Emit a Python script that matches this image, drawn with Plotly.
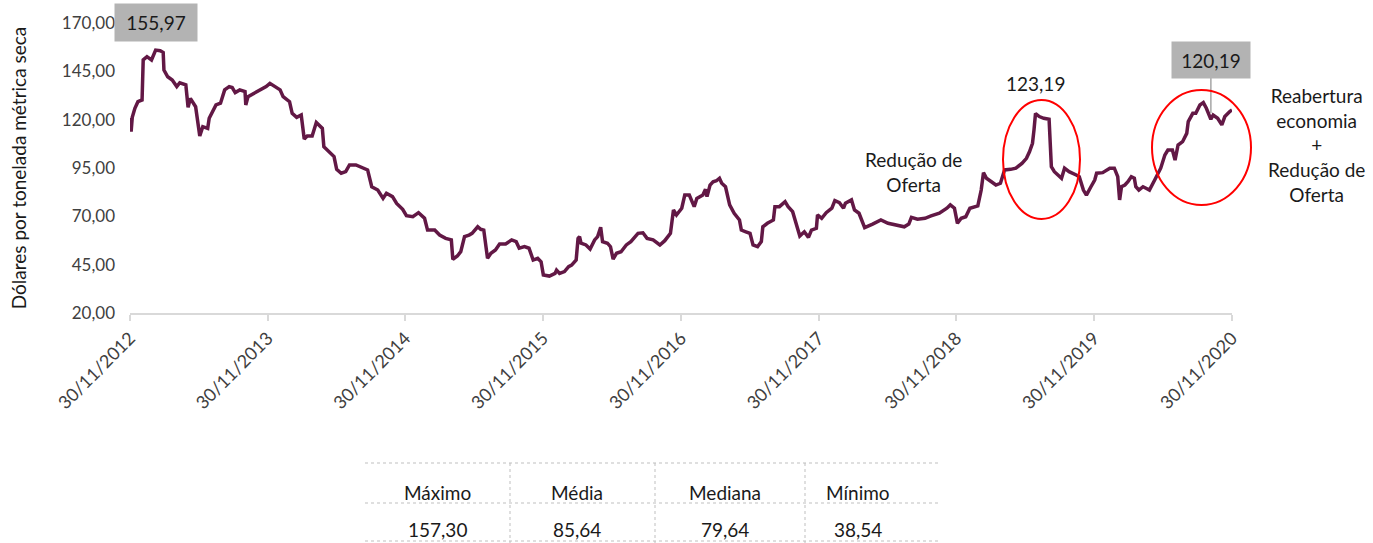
import plotly.graph_objects as go

# Minério de ferro – preço diário (US$/tonelada métrica seca)
dates = [
    "2012-11-30", "2012-12-03", "2012-12-06", "2012-12-13", "2012-12-21", "2013-01-01",
    "2013-01-04", "2013-01-14", "2013-01-26", "2013-02-06", "2013-02-18", "2013-02-26",
    "2013-02-28", "2013-03-10", "2013-03-22", "2013-04-03", "2013-04-11", "2013-04-27",
    "2013-05-03", "2013-05-09", "2013-05-23", "2013-06-03", "2013-06-11", "2013-06-24",
    "2013-06-28", "2013-07-16", "2013-07-28", "2013-08-08", "2013-08-20", "2013-08-28",
    "2013-09-05", "2013-09-17", "2013-10-01", "2013-10-03", "2013-10-09", "2013-10-25",
    "2013-11-10", "2013-11-26", "2013-12-06", "2013-12-18", "2014-01-02", "2014-01-10",
    "2014-01-27", "2014-02-03", "2014-02-15", "2014-02-27", "2014-03-07", "2014-03-15",
    "2014-03-28", "2014-04-08", "2014-04-24", "2014-04-28", "2014-05-12", "2014-05-25",
    "2014-06-01", "2014-06-13", "2014-06-25", "2014-07-05", "2014-07-22", "2014-08-06",
    "2014-08-22", "2014-09-02", "2014-09-18", "2014-10-02", "2014-10-11", "2014-10-27",
    "2014-11-07", "2014-11-23", "2014-12-03", "2014-12-20", "2015-01-04", "2015-01-20",
    "2015-01-28", "2015-02-16", "2015-03-01", "2015-03-17", "2015-04-01", "2015-04-05",
    "2015-04-17", "2015-04-26", "2015-05-06", "2015-05-18", "2015-05-26", "2015-06-10",
    "2015-06-18", "2015-06-26", "2015-07-06", "2015-07-15", "2015-07-27", "2015-08-07",
    "2015-08-23", "2015-09-08", "2015-09-20", "2015-09-28", "2015-10-12", "2015-10-24",
    "2015-11-04", "2015-11-16", "2015-11-25", "2015-12-01", "2015-12-17", "2016-01-01",
    "2016-01-05", "2016-01-13", "2016-01-26", "2016-02-06", "2016-02-14", "2016-02-26",
    "2016-03-02", "2016-03-06", "2016-03-10", "2016-03-23", "2016-04-03", "2016-04-15",
    "2016-04-23", "2016-05-01", "2016-05-06", "2016-05-19", "2016-05-27", "2016-06-03",
    "2016-06-12", "2016-06-24", "2016-07-08", "2016-07-20", "2016-07-28", "2016-08-08",
    "2016-08-21", "2016-09-01", "2016-09-17", "2016-10-05", "2016-10-18", "2016-11-02",
    "2016-11-10", "2016-11-18", "2016-12-02", "2016-12-10", "2016-12-22", "2017-01-04",
    "2017-01-11", "2017-01-27", "2017-02-03", "2017-02-07", "2017-02-15", "2017-02-23",
    "2017-03-04", "2017-03-12", "2017-03-18", "2017-03-28", "2017-04-08", "2017-04-20",
    "2017-05-04", "2017-05-09", "2017-05-21", "2017-06-01", "2017-06-09", "2017-06-21",
    "2017-07-01", "2017-07-05", "2017-07-17", "2017-08-02", "2017-08-06", "2017-08-18",
    "2017-09-02", "2017-09-10", "2017-09-22", "2017-10-03", "2017-10-11", "2017-10-23",
    "2017-11-03", "2017-11-11", "2017-11-24", "2017-11-27", "2017-12-08", "2017-12-20",
    "2018-01-04", "2018-01-12", "2018-01-24", "2018-02-04", "2018-02-09", "2018-02-25",
    "2018-03-05", "2018-03-17", "2018-04-01", "2018-04-22", "2018-05-14", "2018-06-02",
    "2018-06-23", "2018-07-15", "2018-07-27", "2018-08-03", "2018-08-19", "2018-09-08",
    "2018-09-24", "2018-10-16", "2018-11-05", "2018-11-14", "2018-11-25", "2018-12-03",
    "2018-12-13", "2018-12-25", "2019-01-05", "2019-01-18", "2019-01-26", "2019-02-04",
    "2019-02-10", "2019-02-18", "2019-03-02", "2019-03-15", "2019-03-27", "2019-04-07",
    "2019-04-23", "2019-05-07", "2019-05-23", "2019-06-04", "2019-06-12", "2019-06-16",
    "2019-06-20", "2019-06-24", "2019-06-28", "2019-07-08", "2019-07-20", "2019-08-03",
    "2019-08-09", "2019-08-17", "2019-09-05", "2019-09-13", "2019-09-25", "2019-10-14",
    "2019-10-22", "2019-11-02", "2019-11-10", "2019-11-22", "2019-12-02", "2019-12-07",
    "2019-12-23", "2020-01-11", "2020-01-23", "2020-02-01", "2020-02-06", "2020-02-11",
    "2020-02-20", "2020-02-28", "2020-03-08", "2020-03-16", "2020-03-20", "2020-03-28",
    "2020-04-08", "2020-04-16", "2020-04-25", "2020-05-09", "2020-05-17", "2020-05-25",
    "2020-06-05", "2020-06-13", "2020-06-25", "2020-07-02", "2020-07-10", "2020-07-22",
    "2020-08-02", "2020-08-06", "2020-08-18", "2020-08-26", "2020-09-06", "2020-09-15",
    "2020-09-23", "2020-10-05", "2020-10-11", "2020-10-23", "2020-11-03", "2020-11-11",
    "2020-11-24", "2020-11-30",
]
prices = [
    120.9, 113.8, 121.2, 125.9, 129.3, 130.2,
    150.9, 152.6, 150.9, 155.97, 155.7, 154.7,
    145.7, 142.2, 140.5, 137.1, 139.1, 138.0,
    126.4, 131.0, 126.7, 111.6, 116.4, 115.5,
    120.7, 127.6, 128.5, 135.4, 137.1, 136.6,
    134.0, 135.4, 134.5, 127.6, 131.9, 133.7,
    135.7, 137.1, 138.8, 137.1, 135.4, 131.9,
    129.3, 123.3, 121.2, 122.4, 110.0, 111.6,
    111.6, 118.5, 115.5, 106.0, 103.4, 100.9,
    94.3, 92.3, 93.1, 96.6, 96.6, 95.4,
    94.0, 85.3, 83.6, 79.3, 81.9, 80.2,
    76.7, 73.6, 70.3, 69.8, 71.9, 69.0,
    62.9, 62.9, 60.3, 58.6, 57.8, 47.8,
    49.5, 51.7, 59.5, 60.3, 61.2, 64.6,
    63.3, 62.9, 48.3, 50.9, 52.6, 55.7,
    55.7, 57.8, 56.9, 53.5, 54.3, 53.5,
    47.4, 48.3, 46.5, 39.7, 39.1, 40.5,
    42.2, 40.5, 41.4, 44.0, 44.8, 47.4,
    58.6, 59.5, 56.1, 55.2, 53.1, 57.8,
    59.5, 64.3, 56.9, 56.1, 54.3, 47.9,
    50.9, 51.7, 55.2, 56.9, 58.6, 61.2,
    61.5, 58.6, 57.8, 55.2, 57.4, 61.2,
    73.3, 70.7, 74.2, 81.0, 81.0, 75.0,
    79.3, 81.0, 84.0, 80.2, 86.2, 87.9,
    88.4, 89.7, 87.1, 85.3, 75.9, 71.6,
    68.1, 62.9, 62.0, 61.2, 55.2, 54.3,
    56.9, 64.6, 66.4, 68.1, 75.0, 75.0,
    77.6, 75.0, 72.4, 64.6, 59.8, 62.0,
    59.1, 62.9, 63.8, 70.7, 69.0, 71.9,
    74.2, 78.1, 77.1, 74.2, 76.8, 78.5,
    73.3, 71.6, 64.2, 66.0, 68.1, 66.4,
    65.5, 64.6, 66.0, 69.5, 68.5, 69.0,
    70.2, 71.6, 74.2, 75.9, 74.2, 66.4,
    69.0, 69.8, 74.2, 75.0, 75.4, 83.6,
    92.6, 89.7, 87.9, 86.2, 87.1, 94.0,
    94.3, 94.9, 97.4, 100.0, 103.4, 106.0,
    107.8, 114.7, 123.19, 121.6, 120.7, 120.2,
    95.7, 93.1, 89.7, 94.9, 93.1, 91.4,
    90.5, 83.6, 81.0, 85.3, 88.8, 92.3,
    92.6, 94.9, 94.9, 90.5, 78.5, 85.3,
    86.2, 87.9, 90.5, 89.7, 85.3, 83.6,
    85.3, 84.5, 83.6, 88.8, 92.3, 94.9,
    101.7, 104.3, 104.3, 99.1, 106.9, 108.6,
    112.9, 119.0, 123.3, 123.3, 127.6, 128.8,
    125.9, 120.19, 122.4, 120.7, 117.3, 121.6,
    124.2, 125.0,
]

tick_dates = ["2012-11-30", "2013-11-30", "2014-11-30", "2015-11-30", "2016-11-30",
              "2017-11-30", "2018-11-30", "2019-11-30", "2020-11-30"]
tick_labels = ["30/11/2012", "30/11/2013", "30/11/2014", "30/11/2015", "30/11/2016",
               "30/11/2017", "30/11/2018", "30/11/2019", "30/11/2020"]
y_ticks = [20, 45, 70, 95, 120, 145, 170]

# Highlighted values
label_dates = ["2013-02-06", "2019-06-28", "2020-10-05"]
label_values = [155.97, 123.19, 120.19]

# Summary table
stat_names = ["Máximo", "Média", "Mediana", "Mínimo"]
stat_values = [157.30, 85.64, 79.64, 38.54]


def br(v):
    return f"{v:.2f}".replace(".", ",")


W, H = 1373, 543
ML, MR, MT, MB = 130, 141, 23, 230
PW, PH = W - ML - MR, H - MT - MB


def px(x):
    return (x - ML) / PW


def py(y):
    return (H - MB - y) / PH


FONT = "Lato, 'Open Sans', sans-serif"
LINE = "#621845"
TXT = "#1a1a1a"

fig = go.Figure()
fig.add_trace(go.Scatter(
    x=dates, y=prices, mode="lines",
    line=dict(color=LINE, width=3.5),
    hoverinfo="skip", showlegend=False,
))

annotations = []
shapes = []

# 155,97 label box
annotations.append(dict(
    x=label_dates[0], xref="x", y=py(22.5), yref="paper",
    text=br(label_values[0]), showarrow=False,
    font=dict(family=FONT, size=19, color=TXT),
    bgcolor="#b3b3b3", width=80, height=35, xanchor="center", yanchor="middle",
))
# 123,19 label
annotations.append(dict(
    x=label_dates[1], xref="x", y=py(83), yref="paper",
    text=br(label_values[1]), showarrow=False,
    font=dict(family=FONT, size=19, color=TXT),
    xanchor="center", yanchor="middle",
))
# 120,19 label box with leader line
annotations.append(dict(
    x=label_dates[2], xref="x", y=py(60), yref="paper",
    text=br(label_values[2]), showarrow=False,
    font=dict(family=FONT, size=19, color=TXT),
    bgcolor="#b3b3b3", width=76, height=34, xanchor="center", yanchor="middle",
))
shapes.append(dict(
    type="line", xref="x", yref="paper",
    x0=label_dates[2], x1=label_dates[2], y0=py(113), y1=py(77),
    line=dict(color="#a6a6a6", width=1.5),
))

# Commentary
annotations.append(dict(
    x=px(913), xref="paper", y=py(172), yref="paper",
    text="Redução de<br>Oferta", showarrow=False, align="center",
    font=dict(family=FONT, size=19, color=TXT),
    xanchor="center", yanchor="middle",
))
annotations.append(dict(
    x=px(1316), xref="paper", y=py(145), yref="paper",
    text="Reabertura<br>economia<br>+<br>Redução de<br>Oferta", showarrow=False,
    align="center", font=dict(family=FONT, size=19, color=TXT),
    xanchor="center", yanchor="middle",
))

# Red ellipses
shapes.append(dict(type="circle", xref="paper", yref="paper",
                   x0=px(1003), x1=px(1080), y0=py(219), y1=py(100),
                   line=dict(color="#ff0000", width=2)))
shapes.append(dict(type="circle", xref="paper", yref="paper",
                   x0=px(1152), x1=px(1251), y0=py(205), y1=py(90),
                   line=dict(color="#ff0000", width=2)))

# Summary table below the chart
tbl_left, tbl_right = 365, 940
for yy in (463, 503, 541):
    shapes.append(dict(type="line", xref="paper", yref="paper",
                       x0=px(tbl_left), x1=px(tbl_right), y0=py(yy), y1=py(yy),
                       line=dict(color="#bfbfbf", width=1, dash="dot")))
for xx in (510, 655, 805):
    shapes.append(dict(type="line", xref="paper", yref="paper",
                       x0=px(xx), x1=px(xx), y0=py(463), y1=py(543),
                       line=dict(color="#bfbfbf", width=1, dash="dot")))
col_centers = [437, 577, 725, 858]
for cx, name, val in zip(col_centers, stat_names, stat_values):
    annotations.append(dict(x=px(cx), xref="paper", y=py(492), yref="paper",
                            text=name, showarrow=False,
                            font=dict(family=FONT, size=19, color=TXT),
                            xanchor="center", yanchor="middle"))
    annotations.append(dict(x=px(cx), xref="paper", y=py(529), yref="paper",
                            text=br(val), showarrow=False,
                            font=dict(family=FONT, size=19, color=TXT),
                            xanchor="center", yanchor="middle"))

fig.update_layout(
    width=W, height=H, autosize=False,
    margin=dict(l=ML, r=MR, t=MT, b=MB),
    paper_bgcolor="white", plot_bgcolor="white",
    separators=",.",
    font=dict(family=FONT, size=17, color="#404040"),
    xaxis=dict(
        type="date", range=["2012-11-30", "2020-11-30"],
        tickvals=tick_dates, ticktext=tick_labels, tickangle=-45,
        ticks="outside", ticklen=6, tickcolor="#d9d9d9", tickwidth=1.5,
        showline=True, linecolor="#d9d9d9", linewidth=1.5,
        showgrid=False, zeroline=False,
        tickfont=dict(family=FONT, size=18, color="#404040"),
    ),
    yaxis=dict(
        range=[20, 170], tickvals=y_ticks, tickformat=".2f",
        showgrid=False, zeroline=False, showline=False, ticks="",
        ticklabelstandoff=14,
        tickfont=dict(family=FONT, size=17, color="#404040"),
        title=dict(text="Dólares por tonelada métrica seca",
                   font=dict(family=FONT, size=19, color=TXT), standoff=30),
    ),
    annotations=annotations,
    shapes=shapes,
)

fig.write_html("out.html")
